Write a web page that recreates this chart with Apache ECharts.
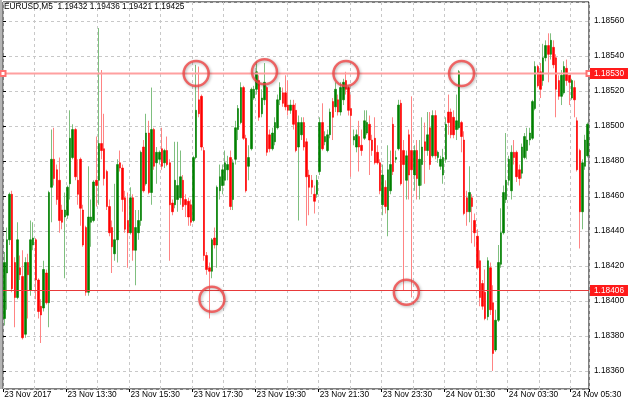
<!DOCTYPE html>
<html><head><meta charset="utf-8">
<script src="https://cdn.jsdelivr.net/npm/echarts@6/dist/echarts.min.js"></script>
<style>html,body{margin:0;padding:0;background:#fff}#c{width:630px;height:406px}</style>
</head><body><div id="c"></div>
<script>
const headerText = 'EURUSD,M5  1.19432 1.19436 1.19421 1.19425';
const tickLabels = ['23 Nov 2017','23 Nov 13:30','23 Nov 15:30','23 Nov 17:30','23 Nov 19:30','23 Nov 21:30','23 Nov 23:30','24 Nov 01:30','24 Nov 03:30','24 Nov 05:30'];
const levels = [1.18530, 1.18406];
const circleMarks = [[73,1.18530],[99,1.18531],[130,1.18530],[174,1.18530],[79,1.18401],[153,1.18405]];
// [open, close, low, high]
const candles = [
[1.18390,1.18422,1.18386,1.18428],[1.18416,1.18435,1.18395,1.18442],[1.18435,1.18461,1.18432,1.18462],[1.18461,1.18407,1.18405,1.18463],
[1.18422,1.18402,1.18385,1.18425],[1.18402,1.18435,1.18401,1.18445],[1.18419,1.18415,1.18412,1.18426],[1.18414,1.18379,1.18378,1.18429],
[1.18381,1.18422,1.18379,1.18425],[1.18422,1.18415,1.18390,1.18427],[1.18406,1.18435,1.18403,1.18446],[1.18432,1.18436,1.18429,1.18445],
[1.18435,1.18412,1.18401,1.18436],[1.18412,1.18394,1.18390,1.18413],[1.18397,1.18392,1.18376,1.18401],[1.18396,1.18418,1.18394,1.18423],
[1.18416,1.18399,1.18398,1.18418],[1.18399,1.18462,1.18385,1.18463],[1.18465,1.18481,1.18445,1.18498],[1.18481,1.18470,1.18466,1.18499],
[1.18475,1.18458,1.18455,1.18478],[1.18469,1.18446,1.18439,1.18482],[1.18452,1.18445,1.18441,1.18455],[1.18448,1.18452,1.18413,1.18462],
[1.18449,1.18465,1.18447,1.18466],[1.18467,1.18493,1.18458,1.18509],[1.18482,1.18498,1.18481,1.18501],[1.18498,1.18471,1.18469,1.18499],
[1.18469,1.18461,1.18455,1.18481],[1.18481,1.18453,1.18443,1.18482],[1.18452,1.18432,1.18431,1.18455],[1.18442,1.18405,1.18403,1.18443],
[1.18405,1.18448,1.18403,1.18477],[1.18445,1.18448,1.18431,1.18458],[1.18446,1.18468,1.18445,1.18469],[1.18469,1.18466,1.18454,1.18494],
[1.18469,1.18490,1.18455,1.18556],[1.18490,1.18486,1.18481,1.18532],[1.18487,1.18470,1.18466,1.18507],[1.18474,1.18454,1.18452,1.18475],
[1.18454,1.18439,1.18437,1.18458],[1.18442,1.18431,1.18416,1.18446],[1.18427,1.18435,1.18423,1.18467],[1.18435,1.18478,1.18422,1.18481],
[1.18479,1.18476,1.18474,1.18486],[1.18476,1.18458,1.18451,1.18478],[1.18459,1.18441,1.18439,1.18463],[1.18446,1.18439,1.18419,1.18462],
[1.18439,1.18459,1.18438,1.18465],[1.18459,1.18429,1.18423,1.18461],[1.18429,1.18442,1.18409,1.18452],[1.18439,1.18446,1.18435,1.18452],
[1.18446,1.18485,1.18443,1.18486],[1.18488,1.18463,1.18462,1.18492],[1.18467,1.18496,1.18466,1.18507],[1.18496,1.18462,1.18461,1.18503],
[1.18462,1.18498,1.18455,1.18522],[1.18498,1.18477,1.18475,1.18499],[1.18479,1.18485,1.18467,1.18488],[1.18481,1.18485,1.18478,1.18486],
[1.18487,1.18477,1.18475,1.18499],[1.18479,1.18486,1.18476,1.18487],[1.18486,1.18478,1.18477,1.18494],[1.18479,1.18455,1.18423,1.18481],
[1.18456,1.18451,1.18449,1.18458],[1.18455,1.18469,1.18453,1.18491],[1.18458,1.18466,1.18451,1.18491],[1.18459,1.18471,1.18455,1.18486],
[1.18469,1.18454,1.18452,1.18472],[1.18458,1.18455,1.18448,1.18461],[1.18457,1.18448,1.18443,1.18459],[1.18455,1.18445,1.18443,1.18458],
[1.18446,1.18482,1.18445,1.18483],[1.18482,1.18509,1.18481,1.18535],[1.18515,1.18507,1.18505,1.18534],[1.18517,1.18488,1.18486,1.18518],
[1.18486,1.18426,1.18423,1.18488],[1.18426,1.18418,1.18415,1.18428],[1.18419,1.18417,1.18390,1.18422],[1.18417,1.18435,1.18413,1.18436],
[1.18436,1.18432,1.18430,1.18442],[1.18432,1.18465,1.18419,1.18466],[1.18463,1.18471,1.18458,1.18478],[1.18466,1.18475,1.18461,1.18478],
[1.18469,1.18479,1.18466,1.18486],[1.18475,1.18478,1.18469,1.18483],[1.18482,1.18454,1.18452,1.18486],[1.18458,1.18479,1.18452,1.18481],
[1.18481,1.18499,1.18478,1.18503],[1.18498,1.18510,1.18492,1.18512],[1.18502,1.18522,1.18501,1.18525],[1.18522,1.18493,1.18492,1.18523],
[1.18493,1.18463,1.18462,1.18495],[1.18477,1.18482,1.18469,1.18489],[1.18487,1.18521,1.18486,1.18522],[1.18516,1.18521,1.18515,1.18523],
[1.18521,1.18531,1.18518,1.18537],[1.18526,1.18505,1.18503,1.18529],[1.18507,1.18516,1.18505,1.18521],[1.18515,1.18525,1.18512,1.18536],
[1.18522,1.18485,1.18483,1.18523],[1.18495,1.18487,1.18485,1.18498],[1.18487,1.18496,1.18486,1.18499],[1.18491,1.18502,1.18489,1.18505],
[1.18499,1.18515,1.18498,1.18518],[1.18515,1.18522,1.18512,1.18525],[1.18519,1.18513,1.18511,1.18522],[1.18519,1.18511,1.18509,1.18529],
[1.18512,1.18509,1.18506,1.18526],[1.18509,1.18512,1.18507,1.18515],[1.18512,1.18501,1.18498,1.18515],[1.18509,1.18486,1.18485,1.18513],
[1.18488,1.18502,1.18446,1.18506],[1.18495,1.18502,1.18492,1.18505],[1.18502,1.18488,1.18486,1.18505],[1.18491,1.18471,1.18443,1.18493],
[1.18472,1.18465,1.18449,1.18475],[1.18469,1.18465,1.18461,1.18472],[1.18461,1.18457,1.18450,1.18466],[1.18461,1.18469,1.18459,1.18472],
[1.18474,1.18502,1.18472,1.18505],[1.18502,1.18487,1.18486,1.18513],[1.18491,1.18494,1.18489,1.18497],[1.18486,1.18495,1.18485,1.18498],
[1.18495,1.18508,1.18493,1.18510],[1.18514,1.18505,1.18492,1.18516],[1.18511,1.18521,1.18508,1.18525],[1.18515,1.18508,1.18506,1.18518],
[1.18508,1.18522,1.18506,1.18525],[1.18515,1.18525,1.18512,1.18527],[1.18526,1.18521,1.18518,1.18531],[1.18522,1.18509,1.18506,1.18523],
[1.18510,1.18506,1.18471,1.18518],[1.18492,1.18494,1.18489,1.18498],[1.18488,1.18495,1.18485,1.18498],[1.18494,1.18488,1.18474,1.18503],
[1.18489,1.18486,1.18483,1.18498],[1.18493,1.18503,1.18492,1.18509],[1.18496,1.18502,1.18495,1.18509],[1.18501,1.18492,1.18472,1.18506],
[1.18492,1.18486,1.18483,1.18495],[1.18493,1.18479,1.18478,1.18505],[1.18485,1.18479,1.18478,1.18489],[1.18479,1.18463,1.18461,1.18481],
[1.18455,1.18472,1.18449,1.18478],[1.18465,1.18454,1.18450,1.18469],[1.18452,1.18475,1.18437,1.18489],[1.18463,1.18478,1.18461,1.18486],
[1.18501,1.18474,1.18472,1.18505],[1.18481,1.18482,1.18479,1.18486],[1.18487,1.18512,1.18486,1.18515],[1.18513,1.18467,1.18466,1.18515],
[1.18486,1.18478,1.18406,1.18492],[1.18469,1.18483,1.18458,1.18486],[1.18495,1.18472,1.18458,1.18498],[1.18486,1.18475,1.18402,1.18517],
[1.18472,1.18486,1.18463,1.18489],[1.18486,1.18470,1.18458,1.18492],[1.18466,1.18481,1.18458,1.18492],[1.18478,1.18488,1.18466,1.18505],
[1.18491,1.18486,1.18467,1.18502],[1.18486,1.18495,1.18483,1.18508],[1.18499,1.18478,1.18475,1.18508],[1.18483,1.18506,1.18482,1.18509],
[1.18506,1.18483,1.18481,1.18509],[1.18482,1.18485,1.18479,1.18486],[1.18477,1.18481,1.18475,1.18483],[1.18472,1.18482,1.18467,1.18487],
[1.18481,1.18501,1.18479,1.18505],[1.18508,1.18502,1.18495,1.18518],[1.18508,1.18495,1.18493,1.18510],[1.18505,1.18495,1.18493,1.18509],
[1.18498,1.18503,1.18492,1.18518],[1.18499,1.18531,1.18498,1.18532],[1.18502,1.18494,1.18485,1.18503],[1.18492,1.18450,1.18449,1.18497],
[1.18459,1.18451,1.18443,1.18463],[1.18451,1.18462,1.18445,1.18477],[1.18459,1.18454,1.18433,1.18461],[1.18446,1.18439,1.18431,1.18450],
[1.18437,1.18419,1.18418,1.18441],[1.18423,1.18402,1.18397,1.18429],[1.18410,1.18397,1.18395,1.18412],[1.18405,1.18390,1.18389,1.18418],
[1.18391,1.18423,1.18389,1.18425],[1.18419,1.18395,1.18392,1.18422],[1.18399,1.18370,1.18360,1.18409],[1.18372,1.18389,1.18371,1.18395],
[1.18389,1.18422,1.18388,1.18432],[1.18421,1.18439,1.18419,1.18453],[1.18439,1.18462,1.18438,1.18466],[1.18458,1.18469,1.18456,1.18496],
[1.18469,1.18481,1.18466,1.18483],[1.18463,1.18485,1.18458,1.18489],[1.18485,1.18482,1.18478,1.18492],[1.18485,1.18471,1.18468,1.18486],
[1.18475,1.18470,1.18466,1.18478],[1.18473,1.18488,1.18470,1.18490],[1.18482,1.18494,1.18481,1.18496],[1.18486,1.18492,1.18481,1.18499],
[1.18492,1.18496,1.18489,1.18499],[1.18493,1.18514,1.18492,1.18515],[1.18510,1.18534,1.18509,1.18537],[1.18534,1.18523,1.18522,1.18535],
[1.18531,1.18521,1.18516,1.18536],[1.18526,1.18539,1.18523,1.18547],[1.18539,1.18546,1.18537,1.18549],[1.18546,1.18541,1.18525,1.18553],
[1.18541,1.18549,1.18538,1.18553],[1.18545,1.18535,1.18533,1.18549],[1.18539,1.18521,1.18505,1.18541],[1.18526,1.18517,1.18515,1.18529],
[1.18517,1.18529,1.18512,1.18532],[1.18519,1.18534,1.18518,1.18537],[1.18533,1.18526,1.18523,1.18538],[1.18529,1.18525,1.18512,1.18529],
[1.18516,1.18526,1.18515,1.18527],[1.18522,1.18515,1.18505,1.18526],[1.18503,1.18475,1.18474,1.18505],[1.18486,1.18451,1.18430,1.18487],
[1.18451,1.18479,1.18441,1.18481],[1.18477,1.18492,1.18475,1.18495],[1.18483,1.18501,1.18482,1.18502]
];
const startTime = Date.UTC(2017, 10, 23, 11, 30);
const barMinutes = 5;
const times = candles.map((_, i) => {
  const d = new Date(startTime + i * barMinutes * 60000);
  const p = n => String(n).padStart(2, '0');
  return d.getUTCDate() + ' Nov ' + p(d.getUTCHours()) + ':' + p(d.getUTCMinutes());
});
const bodies = candles.map(r => [r[0], r[1], Math.min(r[0], r[1]), Math.max(r[0], r[1])]);
const FONT = 'Liberation Sans';
const tagLabel = v => ({show: true, distance: 1, formatter: () => v.toFixed(5),
  backgroundColor: '#ff1a1a', color: '#fff', fontSize: 8.3, fontFamily: FONT, padding: [1, 4, 1, 4], lineHeight: 9});

const chart = echarts.init(document.getElementById('c'), null, {renderer: 'canvas'});
chart.setOption({
  animation: false,
  backgroundColor: '#fff',
  title: {text: headerText, left: 4, top: 3, padding: 0,
    textStyle: {fontSize: 8.3, fontWeight: 'normal', color: '#000', fontFamily: FONT}},
  graphic: [{type: 'rect', left: 0, top: 0, shape: {width: 2, height: 389}, style: {fill: '#b4b4b4'}, silent: true}],
  grid: {left: 3, right: 41, top: 2, bottom: 17, show: true, borderColor: '#000', borderWidth: 1, backgroundColor: '#fff'},
  xAxis: [{
    type: 'category', data: times, boundaryGap: true,
    axisLine: {show: false},
    axisTick: {show: true, length: 3, interval: i => i % 24 === 0, lineStyle: {color: '#000'}},
    axisLabel: {interval: i => i % 24 === 0, formatter: (v, i) => tickLabels[Math.round(i / 24)] || '',
      align: 'left', margin: 2, fontSize: 8.3, color: '#000', fontFamily: FONT, hideOverlap: false},
    splitLine: {show: true, interval: i => i % 12 === 0, lineStyle: {color: '#c8c8c8', type: [3, 3], width: 1}}
  }, {
    type: 'value', min: 0, max: 1, show: false
  }],
  yAxis: {
    type: 'value', position: 'right', scale: true,
    min: 1.183497, max: 1.185709, splitNumber: 11, minInterval: 0.0002, maxInterval: 0.0002,
    axisLine: {show: false},
    axisTick: {show: true, length: 3, lineStyle: {color: '#000'}},
    axisLabel: {margin: 5, fontSize: 8.3, color: '#000', fontFamily: FONT, formatter: v => v.toFixed(5),
      padding: [3, 0, 0, 0], showMinLabel: false, showMaxLabel: false},
    splitLine: {show: true, lineStyle: {color: '#c8c8c8', type: [3, 3], width: 1}}
  },
  series: [
    {type: 'candlestick', name: 'wicks', data: candles, barWidth: 1, silent: true,
      itemStyle: {color: '#7fbf7f', color0: '#ff8484', borderColor: '#7fbf7f', borderColor0: '#ff8484', borderWidth: 1}},
    {type: 'candlestick', name: 'bodies', data: bodies, barWidth: 2, silent: true,
      itemStyle: {color: '#008000', color0: '#ff0000', borderColor: '#008000', borderColor0: '#ff0000', borderWidth: 0.6}},
    {type: 'line', name: 'level1', xAxisIndex: 1, data: [[0, levels[0]], [1, levels[0]]], silent: true, z: 4,
      symbol: 'emptyRect', symbolSize: 5, showSymbol: true, clip: false,
      lineStyle: {color: '#ffa0a0', width: 2}, itemStyle: {color: '#ff7070', borderWidth: 1},
      endLabel: tagLabel(levels[0])},
    {type: 'line', name: 'level2', xAxisIndex: 1, data: [[0, levels[1]], [1, levels[1]]], silent: true, z: 4,
      symbol: 'none', clip: false,
      lineStyle: {color: '#e83a3a', width: 1},
      endLabel: tagLabel(levels[1])},
    {type: 'scatter', name: 'circles', data: circleMarks, symbol: 'circle', symbolSize: 25, silent: true, z: 5,
      itemStyle: {color: 'rgba(0,0,0,0)', borderColor: '#f04545', borderWidth: 2.5,
        shadowColor: 'rgba(0,0,0,0.35)', shadowBlur: 3, shadowOffsetX: 1, shadowOffsetY: 1}}
  ]
});
</script>
</body></html>
